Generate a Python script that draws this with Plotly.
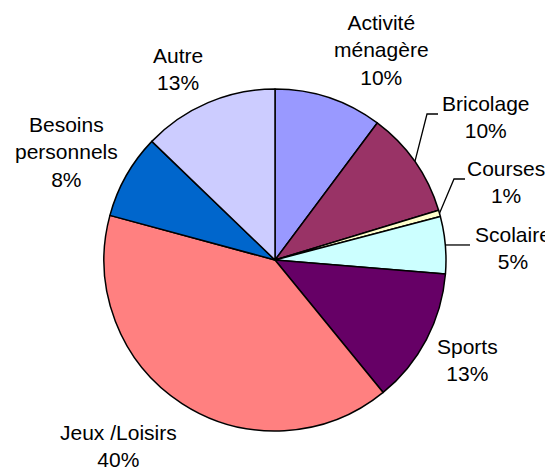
import math
import plotly.graph_objects as go

# ---- data ----
categories = ["Activité ménagère", "Bricolage", "Courses", "Scolaire",
              "Sports", "Jeux /Loisirs", "Besoins personnels", "Autre"]
values = [10.2, 10.1, 0.6, 5.4, 12.8, 40.1, 8.0, 12.8]
colors = ["#9999FF", "#993366", "#FFFFCC", "#CCFFFF",
          "#660066", "#FF8080", "#0066CC", "#CCCCFF"]
label_lines = [["Activité", "ménagère"], ["Bricolage"], ["Courses"], ["Scolaire"],
               ["Sports"], ["Jeux /Loisirs"], ["Besoins", "personnels"], ["Autre"]]

# ---- layout constants (screen pixels) ----
WIN_W, WIN_H = 553, 471
M = 8                      # default body margin of the html page
W, H = WIN_W - M, WIN_H - M  # figure size so it fills the window
CX, CY, R = 275, 260, 171
FONT = "Liberation Sans, Arial, sans-serif"
FS = 21

# label block centres (screen pixel positions of text layout)
label_pos = {
    "Activité ménagère": (381, 50),
    "Bricolage": (486, 117),
    "Courses": (506, 182),
    "Scolaire": (513, 248),
    "Sports": (467, 360),
    "Jeux /Loisirs": (118, 446),
    "Besoins personnels": (66, 152),
    "Autre": (178, 69),
}
# leader line elbows / ends (screen pixels) for small slices
leader_pts = {
    "Bricolage": [(427, 114), (438, 114)],
    "Courses": [(454, 179), (465, 179)],
    "Scolaire": [(470, None)],
}

fig = go.Figure()
fig.add_trace(go.Pie(
    labels=categories, values=values, sort=False, direction="clockwise",
    rotation=0, textinfo="none", hoverinfo="label+percent",
    marker=dict(colors=colors, line=dict(color="black", width=1.5)),
    domain=dict(x=[(CX - R - M) / W, (CX + R - M) / W],
                y=[1 - (CY + R - M) / H, 1 - (CY - R - M) / H]),
    showlegend=False,
))

total = sum(values)
cum = 0.0
annotations = []
for cat, v, lines in zip(categories, values, label_lines):
    mid = (cum + v / 2) / total * 2 * math.pi
    cum += v
    pct = round(v / total * 100)
    text = "<br>".join(lines + [f"{pct}%"])
    lx, ly = label_pos[cat]
    annotations.append(dict(
        x=lx, y=ly, xref="x", yref="y", text=text, showarrow=False,
        xanchor="center", yanchor="middle", align="center",
        font=dict(family=FONT, size=FS, color="black"),
    ))
    if cat in leader_pts:
        sx = CX + R * math.sin(mid)
        sy = CY - R * math.cos(mid)
        xs, ys = [sx], [sy]
        for px, py in leader_pts[cat]:
            xs.append(px)
            ys.append(sy if py is None else py)
        fig.add_trace(go.Scatter(x=xs, y=ys, mode="lines",
                                 line=dict(color="black", width=1.3),
                                 hoverinfo="skip", showlegend=False,
                                 xaxis="x", yaxis="y"))

fig.update_layout(
    width=W, height=H,
    margin=dict(l=0, r=0, t=0, b=0),
    paper_bgcolor="white", plot_bgcolor="rgba(0,0,0,0)",
    xaxis=dict(range=[M, WIN_W], visible=False, fixedrange=True, domain=[0, 1]),
    yaxis=dict(range=[WIN_H, M], visible=False, fixedrange=True, domain=[0, 1]),
    annotations=annotations,
)

fig.write_html("out.html")
